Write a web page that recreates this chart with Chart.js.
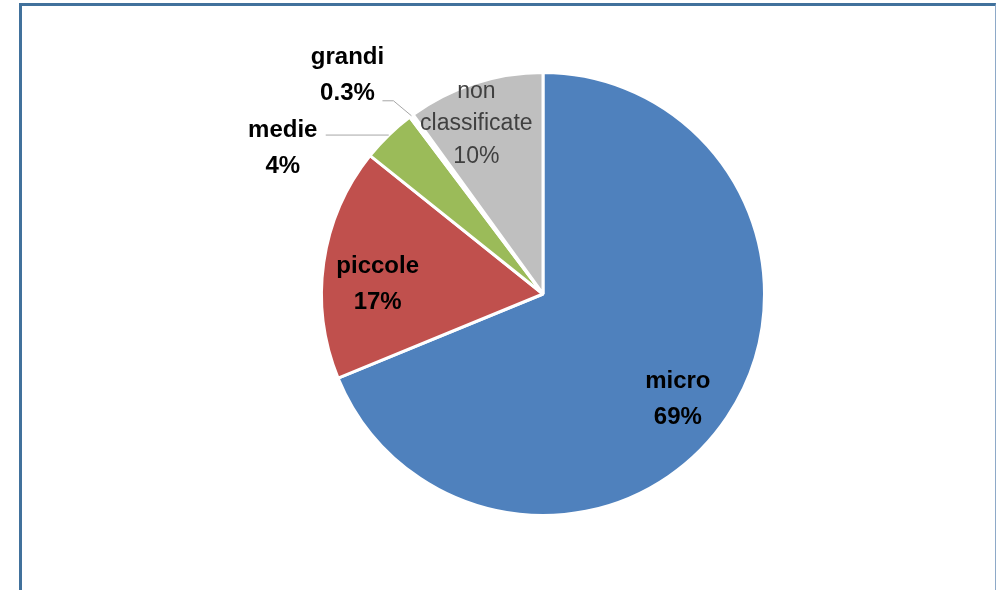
<!DOCTYPE html>
<html>
<head>
<meta charset="utf-8">
<script src="https://cdn.jsdelivr.net/npm/chart.js@4/dist/chart.umd.min.js"></script>
<style>
html, body { margin: 0; overflow: hidden; background: #fff; }
#frame {
	position: absolute; left: 19px; top: 3px; width: 973px; height: 640px;
	border-left: 3px solid #41719C; border-top: 3px solid #41719C; border-right: 1px solid #8EA9C8;
}
#myPie { position: absolute; left: 0; top: 0; }
</style>
</head>
<body>
<div id="frame"></div>
<canvas id="myPie" width="996" height="590"></canvas>
<script>
// data
const categories = ['micro', 'piccole', 'medie', 'grandi', 'non classificate'];
const shares = [69, 17, 4, 0.3, 10];
const sliceColors = ['#4F81BD', '#C0504D', '#9BBB59', '#FFFFFF', '#BFBFBF'];

// label placement per slice (inside: along mid angle, outside: leader line)
const labelStyle = [
	{ f: 0.76, dx: -5, dy: 10, bold: true },
	{ f: 0.745, dx: -2, dy: 12, bold: true },
	{ outside: true, elbow: [0, 0], run: -63, tx: -43, ty: 2, bold: true },
	{ outside: true, elbow: [-18, -15], run: -11, tx: -35, ty: -37, bold: true },
	{ f: 0.83, dx: -10, dy: 3, bold: false, color: '#404040' }
];

const fmtPct = v => (v < 1 ? v.toFixed(1) : Math.round(v)) + '%';

const pieLabels = {
	id: 'pieLabels',
	afterDatasetsDraw(chart) {
		const ctx = chart.ctx;
		const meta = chart.getDatasetMeta(0);
		ctx.save();
		meta.data.forEach((arc, i) => {
			const st = labelStyle[i];
			const p = arc.getProps(['x', 'y', 'startAngle', 'endAngle', 'outerRadius'], true);
			const mid = (p.startAngle + p.endAngle) / 2;
			const lines = categories[i].split(' ').concat([fmtPct(shares[i])]);
			const lh = st.bold ? 36 : 32.5;
			ctx.font = (st.bold ? 'bold 24px' : '23px') + ' "Liberation Sans", Arial, sans-serif';
			ctx.fillStyle = st.color || '#000';
			ctx.textAlign = 'center';
			ctx.textBaseline = 'alphabetic';
			let cx, firstBase;
			if (st.outside) {
				const ex = p.x + Math.cos(mid) * p.outerRadius;
				const ey = p.y + Math.sin(mid) * p.outerRadius;
				const kx = ex + st.elbow[0], ky = ey + st.elbow[1];
				const lx = kx + st.run;
				ctx.strokeStyle = '#A6A6A6';
				ctx.lineWidth = 1;
				ctx.beginPath();
				ctx.moveTo(ex, ey);
				ctx.lineTo(kx, ky);
				ctx.lineTo(lx, ky);
				ctx.stroke();
				cx = lx + st.tx;
				firstBase = ky + st.ty;
			} else {
				const r = p.outerRadius * st.f;
				cx = p.x + Math.cos(mid) * r + st.dx;
				const cy = p.y + Math.sin(mid) * r + st.dy;
				firstBase = cy - (lines.length - 1) / 2 * lh + 8;
			}
			lines.forEach((t, j) => ctx.fillText(t, cx, firstBase + j * lh));
		});
		ctx.restore();
	}
};

new Chart(document.getElementById('myPie'), {
	type: 'pie',
	data: {
		labels: categories,
		datasets: [{
			data: shares,
			backgroundColor: sliceColors,
			borderColor: '#fff',
			borderWidth: 3
		}]
	},
	options: {
		responsive: false,
		animation: false,
		layout: { padding: { left: 320, right: 230, top: 71, bottom: 73 } },
		plugins: {
			legend: { display: false },
			tooltip: { enabled: false }
		}
	},
	plugins: [pieLabels]
});
</script>
</body>
</html>
